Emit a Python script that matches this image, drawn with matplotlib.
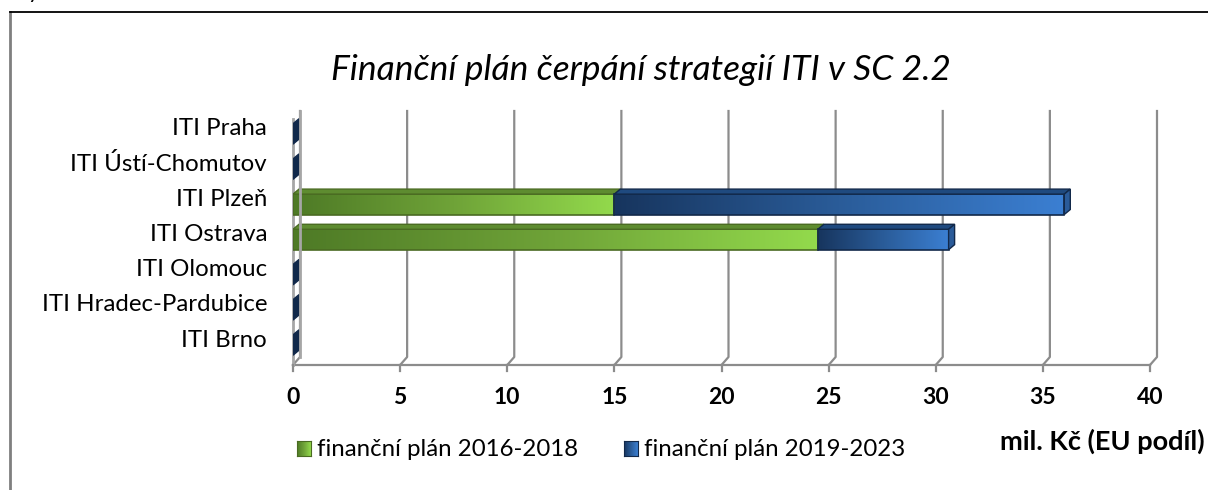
import matplotlib.pyplot as plt
from matplotlib.colors import LinearSegmentedColormap
from matplotlib.patches import Polygon, Rectangle
from matplotlib.lines import Line2D
import numpy as np

# data
categories = ["ITI Brno", "ITI Hradec-Pardubice", "ITI Olomouc", "ITI Ostrava",
              "ITI Plzeň", "ITI Ústí-Chomutov", "ITI Praha"]
plan_2016_2018 = [0, 0, 0, 24.5, 15.0, 0, 0]
plan_2019_2023 = [0, 0, 0, 6.1, 21.0, 0, 0]
series_names = ["finanční plán 2016-2018", "finanční plán 2019-2023"]
xticks = [0, 5, 10, 15, 20, 25, 30, 35, 40]

title = "Finanční plán čerpání strategií ITI v SC 2.2"
unit_label = "mil. Kč (EU podíl)"

FONT = ["Lato", "DejaVu Sans"]
plt.rcParams["font.family"] = FONT

W, H = 1208, 490
fig = plt.figure(figsize=(W / 100, H / 100), dpi=100)
ax_left, ax_right, ax_bottom, ax_top = 293, 1150, 365, 111
ax = fig.add_axes([ax_left / W, (H - ax_bottom) / H,
                   (ax_right - ax_left) / W, (ax_bottom - ax_top) / H])
ymin, ymax = -0.71, 6.51
for s in ax.spines.values():
    s.set_visible(False)
ax.set_xticks([])
ax.set_yticks([])
ax.patch.set_alpha(0)

# px -> data units
px_x = 40 / (ax_right - ax_left)
px_y = (ymax - ymin) / (ax_bottom - ax_top)
wall_dx, wall_dy = 7 * px_x, 8 * px_y
bar_dx, bar_dy = 6 * px_x, 5 * px_y
bar_shift = 5 * px_y  # bars sit a bit below the label centres
grid_c = "#8c8c8c"

# floor / grid
ax.plot([0, 40], [ymin, ymin], color=grid_c, lw=1.6, clip_on=False, zorder=1)
for t in xticks:
    ax.plot([t, t + wall_dx, t + wall_dx], [ymin, ymin + wall_dy, ymax],
            color=grid_c, lw=1.6, clip_on=False, zorder=1)
    ax.plot([t, t], [ymin, ymin - 6 * px_y], color=grid_c, lw=1.6, clip_on=False)
    ax.text(t, ymin - 33 * px_y, str(t), ha="center", va="center",
            fontsize=16.5, fontweight="bold", color="black")
# left wall
ax.plot([0, 0], [ymin, ymax - wall_dy], color="#a6a6a6", lw=2, clip_on=False, zorder=1)

green_cm = LinearSegmentedColormap.from_list("g", ["#4e7a26", "#6fa338", "#93da4c"])
blue_cm = LinearSegmentedColormap.from_list("b", ["#17355e", "#2a5c99", "#3b7fd2"])
grad = np.linspace(0, 1, 256).reshape(1, -1)
h = 0.29


def draw_seg(x0, x1, c, cmap, edge, top, side, last):
    if x1 > x0:
        ax.imshow(grad, cmap=cmap, extent=(x0, x1, c - h, c + h),
                  aspect="auto", zorder=3, interpolation="bilinear")
        ax.add_patch(Rectangle((x0, c - h), x1 - x0, 2 * h, fill=False,
                               edgecolor=edge, lw=1.2, zorder=4))
        ax.add_patch(Polygon([[x0, c + h], [x1, c + h], [x1 + bar_dx, c + h + bar_dy],
                              [x0 + bar_dx, c + h + bar_dy]], closed=True,
                             facecolor=top, edgecolor=edge, lw=1, zorder=4))
    if last:
        ax.add_patch(Polygon([[x1, c - h], [x1, c + h], [x1 + bar_dx, c + h + bar_dy],
                              [x1 + bar_dx, c - h + bar_dy]], closed=True,
                             facecolor=side, edgecolor=edge, lw=1, zorder=4))


for i, (a, b) in enumerate(zip(plan_2016_2018, plan_2019_2023)):
    c = i - bar_shift
    draw_seg(0, a, c, green_cm, "#4a6b22", "#5e8c30", "#5e8c30", b == 0 and a > 0)
    side = "#2a5b99" if a + b > 0 else "#10284a"
    draw_seg(a, a + b, c, blue_cm, "#12294a", "#1f4a7f", side, True)
ax.plot([wall_dx, wall_dx], [ymin + wall_dy, ymax], color="#a6a6a6", lw=2,
        clip_on=False, zorder=5)
ax.set_xlim(0, 40)
ax.set_ylim(ymin, ymax)

# category labels
for i, name in enumerate(categories):
    ax.text(-26 * px_x, i, name, ha="right", va="center", fontsize=17.3, color="black")

# title
fig.text(641 / W, 1 - 70 / H, title, ha="center", va="center", fontsize=25.5,
         fontstyle="italic", color="black")

# legend
leg_y = 1 - 449 / H
for x_px, cm, ec, name in [(297, green_cm, "#4a6b22", series_names[0]),
                           (624, blue_cm, "#12294a", series_names[1])]:
    lax = fig.add_axes([x_px / W, leg_y - 7 / H, 14 / W, 15 / H])
    lax.imshow(grad, cmap=cm, aspect="auto", interpolation="bilinear")
    lax.set_xticks([])
    lax.set_yticks([])
    for s in lax.spines.values():
        s.set_color(ec)
    fig.text((x_px + 20) / W, leg_y, name, ha="left", va="center", fontsize=17.3)
fig.text(1000 / W, 1 - 441 / H, unit_label, ha="left", va="center",
         fontsize=19.5, fontweight="bold")

# outer frame
fig.add_artist(Line2D([10 / W, 10 / W], [0, 1 - 12 / H], color="#7f7f7f", lw=2))
fig.add_artist(Line2D([10 / W, 1], [1 - 12 / H, 1 - 12 / H], color="black", lw=1.3))
fig.text(28 / W, 1 + 2 / H, "y", fontsize=16, va="baseline")

fig.savefig("out.png", dpi=100)
